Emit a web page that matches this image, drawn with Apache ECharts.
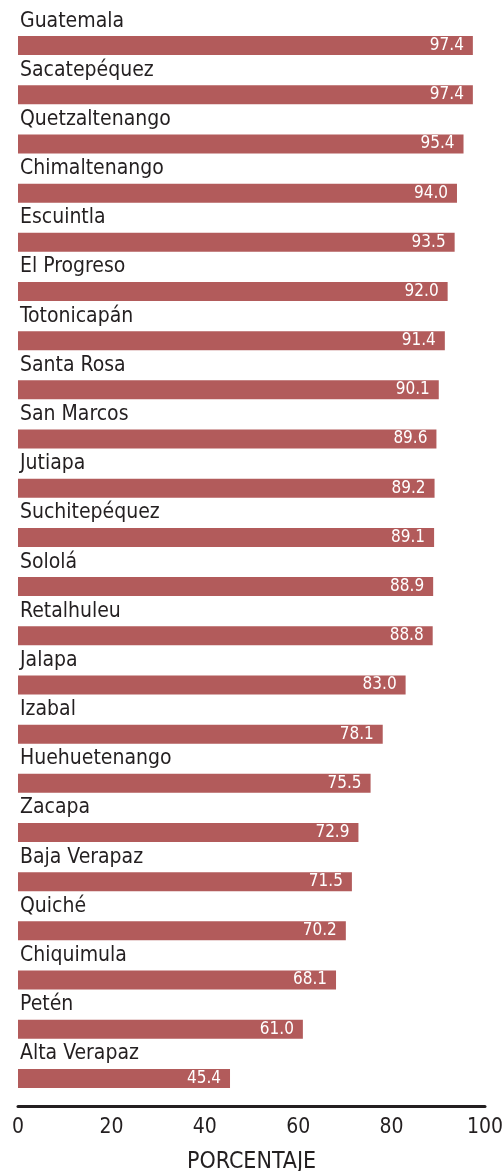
<!DOCTYPE html>
<html>
<head>
<meta charset="utf-8">
<script src="https://cdn.jsdelivr.net/npm/echarts@6/dist/echarts.min.js"></script>
<style>
  html, body { margin: 0; padding: 0; background: #fff; }
  #myChart { width: 502px; height: 1171px; }
</style>
</head>
<body>
<div id="myChart"></div>
<script>
var departamentos = ["Guatemala", "Sacatepéquez", "Quetzaltenango", "Chimaltenango", "Escuintla",
  "El Progreso", "Totonicapán", "Santa Rosa", "San Marcos", "Jutiapa", "Suchitepéquez", "Sololá",
  "Retalhuleu", "Jalapa", "Izabal", "Huehuetenango", "Zacapa", "Baja Verapaz", "Quiché",
  "Chiquimula", "Petén", "Alta Verapaz"];
var porcentajes = [97.4, 97.4, 95.4, 94.0, 93.5, 92.0, 91.4, 90.1, 89.6, 89.2, 89.1, 88.9,
  88.8, 83.0, 78.1, 75.5, 72.9, 71.5, 70.2, 68.1, 61.0, 45.4];
var xTicks = [0, 20, 40, 60, 80, 100];

var fuente = '"Liberation Sans Narrow", "DejaVu Sans Condensed", sans-serif';
var myChart = echarts.init(document.getElementById("myChart"));
var option = {
  animation: false,
  textStyle: { fontFamily: fuente },
  grid: { left: 18, right: 17, top: 21, bottom: 68, outerBoundsMode: "none", containLabel: false },
  xAxis: {
    type: "value",
    min: 0,
    max: 100,
    interval: 20,
    offset: 3,
    name: "PORCENTAJE",
    nameLocation: "middle",
    nameGap: 45,
    nameTextStyle: { fontFamily: fuente, fontSize: 23, color: "#231f20" },
    axisLine: { show: true, lineStyle: { color: "#231f20", width: 3 } },
    axisTick: { show: false },
    splitLine: { show: false },
    axisLabel: {
      fontFamily: fuente,
      fontSize: 21,
      color: "#231f20",
      margin: 11,
      formatter: function (v) { return xTicks.indexOf(v) >= 0 ? String(v) : ""; }
    }
  },
  yAxis: {
    type: "category",
    inverse: true,
    data: departamentos,
    show: false
  },
  series: [
    {
      type: "bar",
      data: porcentajes,
      barWidth: 19,
      itemStyle: { color: "#b25b5b" },
      label: {
        show: true,
        position: "insideRight",
        distance: 9,
        color: "#fff",
        fontFamily: fuente,
        fontSize: 17,
        formatter: function (p) { return p.value.toFixed(1); }
      }
    },
    {
      type: "bar",
      data: porcentajes,
      barWidth: 19,
      barGap: "-100%",
      itemStyle: { color: "rgba(0,0,0,0)" },
      label: {
        show: true,
        position: [2, -15],
        verticalAlign: "middle",
        align: "left",
        color: "#231f20",
        fontFamily: fuente,
        fontSize: 21,
        formatter: "{b}"
      }
    }
  ]
};
myChart.setOption(option);
</script>
</body>
</html>
